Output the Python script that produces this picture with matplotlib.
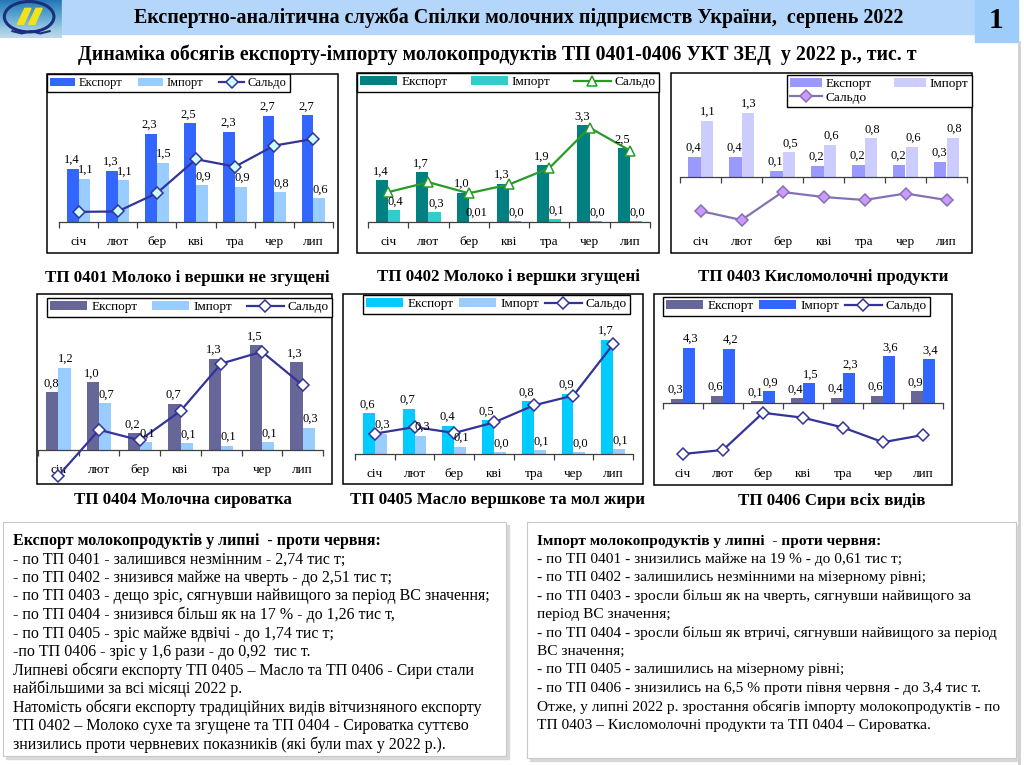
import numpy as np
import matplotlib
matplotlib.use('Agg')
import matplotlib.pyplot as plt
from matplotlib.patches import Rectangle, Ellipse, Polygon
from matplotlib.lines import Line2D

plt.rcParams['font.family'] = ['Liberation Serif', 'DejaVu Serif']

W, H = 1024, 765

# --- дані (тис. т) ---
months = ['січ', 'лют', 'бер', 'кві', 'тра', 'чер', 'лип']
names = ['Експорт', 'Імпорт', 'Сальдо']

exp_0401 = [1.37, 1.32, 2.26, 2.53, 2.32, 2.72, 2.74]
imp_0401 = [1.11, 1.07, 1.52, 0.94, 0.90, 0.76, 0.61]
sal_0401 = [0.26, 0.27, 0.74, 1.61, 1.42, 1.96, 2.13]

exp_0402 = [1.42, 1.70, 0.99, 1.31, 1.93, 3.30, 2.51]
imp_0402 = [0.40, 0.34, 0.01, 0.03, 0.09, 0.03, 0.03]
sal_0402 = [1.02, 1.36, 0.98, 1.28, 1.84, 3.22, 2.44]
imp_labels_0402 = ['0,4', '0,3', '0,01', '0,0', '0,1', '0,0', '0,0']

exp_0403 = [0.40, 0.40, 0.13, 0.23, 0.24, 0.24, 0.30]
imp_0403 = [1.12, 1.28, 0.49, 0.64, 0.77, 0.60, 0.78]
sal_0403 = [-0.68, -0.86, -0.30, -0.40, -0.46, -0.33, -0.46]

exp_0404 = [0.83, 0.97, 0.24, 0.66, 1.31, 1.50, 1.26]
imp_0404 = [1.18, 0.67, 0.11, 0.10, 0.06, 0.11, 0.32]
sal_0404 = [-0.37, 0.29, 0.14, 0.56, 1.24, 1.41, 0.93]

exp_0405 = [0.62, 0.69, 0.43, 0.51, 0.80, 0.92, 1.74]
imp_0405 = [0.31, 0.28, 0.11, 0.03, 0.06, 0.03, 0.07]
sal_0405 = [0.31, 0.41, 0.32, 0.48, 0.74, 0.89, 1.67]

exp_0406 = [0.33, 0.58, 0.14, 0.38, 0.39, 0.57, 0.92]
imp_0406 = [4.28, 4.22, 0.90, 1.52, 2.29, 3.61, 3.40]
sal_0406 = [-3.95, -3.64, -0.76, -1.14, -1.90, -3.04, -2.48]

header = 'Експертно-аналітична служба Спілки молочних підприємств України,  серпень 2022'
subtitle = 'Динаміка обсягів експорту-імпорту молокопродуктів ТП 0401-0406 УКТ ЗЕД  у 2022 р., тис. т'

left_lines = [
    'Експорт молокопродуктів у липні  - проти червня:',
    '- по ТП 0401 - залишився незмінним - 2,74 тис т;',
    '- по ТП 0402 - знизився майже на чверть - до 2,51 тис т;',
    '- по ТП 0403 - дещо зріс, сягнувши найвищого за період ВС значення;',
    '- по ТП 0404 - знизився більш як на 17 % - до 1,26 тис т,',
    '- по ТП 0405 - зріс майже вдвічі - до 1,74 тис т;',
    '-по ТП 0406 - зріс у 1,6 рази - до 0,92  тис т.',
    'Липневі обсяги експорту ТП 0405 – Масло та ТП 0406 - Сири стали',
    'найбільшими за всі місяці 2022 р.',
    'Натомість обсяги експорту традиційних видів вітчизняного експорту',
    'ТП 0402 – Молоко сухе та згущене та ТП 0404 - Сироватка суттєво',
    'знизились проти червневих показників (які були max у 2022 р.).',
]
right_lines = [
    'Імпорт молокопродуктів у липні  - проти червня:',
    '- по ТП 0401 - знизились майже на 19 % - до 0,61 тис т;',
    '- по ТП 0402 - залишились незмінними на мізерному рівні;',
    '- по ТП 0403 - зросли більш як на чверть, сягнувши найвищого за',
    'період ВС значення;',
    '- по ТП 0404 - зросли більш як втричі, сягнувши найвищого за період',
    'ВС значення;',
    '- по ТП 0405 - залишились на мізерному рівні;',
    '- по ТП 0406 - знизились на 6,5 % проти півня червня - до 3,4 тис т.',
    'Отже, у липні 2022 р. зростання обсягів імпорту молокопродуктів - по',
    'ТП 0403 – Кисломолочні продукти та ТП 0404 – Сироватка.',
]

fig = plt.figure(figsize=(W / 100, H / 100), dpi=100)
fig.patch.set_facecolor('white')


def fig_rect(x0, y0, x1, y1):
    # пікселі (зверху вниз) -> частки фігури
    return [x0 / W, 1 - y1 / H, (x1 - x0) / W, (y1 - y0) / H]


def ftext(x, y, s, **kw):
    fig.text(x / W, 1 - y / H, s, **kw)


def fmt(v):
    return f'{v:.1f}'.replace('.', ',')


# --- шапка ---
fig.patches.append(Rectangle((62 / W, 1 - 34 / H), (975 - 62) / W, 34 / H,
                             transform=fig.transFigure, color='#b4d6fa', zorder=0))
fig.patches.append(Rectangle((975 / W, 1 - 42 / H), 43 / W, 42 / H,
                             transform=fig.transFigure, color='#9fcdfb', zorder=0))
fig.add_artist(Line2D([1019 / W, 1019 / W], [0, 1 - 42 / H], transform=fig.transFigure,
                      color='#d0d0d0', lw=2))
ftext(519, 18, header, ha='center', va='center', fontsize=14.4, fontweight='bold')
ftext(996, 21, '1', ha='center', va='center', fontsize=21, fontweight='bold')
ftext(497, 55, subtitle, ha='center', va='center', fontsize=14.3, fontweight='bold')

# логотип
lg = fig.add_axes(fig_rect(0, 0, 62, 38))
lg.imshow(np.linspace(0, 1, 50).reshape(-1, 1), cmap='Blues_r', aspect='auto',
          extent=(0, 1, 0, 1), vmin=-0.6, vmax=1.6)
lg.add_patch(Ellipse((0.47, 0.56), 0.8, 0.8, fill=False, ec='#1b2f7a', lw=2.2))
lg.add_patch(Polygon([(0.28, 0.36), (0.38, 0.36), (0.50, 0.78), (0.40, 0.78)], color='#f2e21c'))
lg.add_patch(Polygon([(0.46, 0.36), (0.56, 0.36), (0.68, 0.78), (0.58, 0.78)], color='#f2e21c'))
lg.plot([0.2, 0.35, 0.5, 0.65, 0.8], [0.18, 0.12, 0.18, 0.12, 0.18], color='#1b2f7a', lw=1.5)
lg.set_xlim(0, 1)
lg.set_ylim(0, 1)
lg.axis('off')

# --- макет панелей (пікселі) ---
layout = {
    '0401': dict(frame=(47, 74, 338, 253), axis=(59, 333), base=222, ppu=39, month_y=242,
                 legend=(47, 74, 290, 95), ncol=3, hl=2.0, lfs=9, title_xy=(187, 278)),
    '0402': dict(frame=(357, 73, 659, 253), axis=(368, 650), base=222, ppu=29.3, month_y=242,
                 legend=(357, 73, 659, 93), ncol=3, hl=2.8, lfs=9.5, title_xy=(508, 277)),
    '0403': dict(frame=(671, 73, 972, 253), axis=(680, 967), base=177, ppu=50, month_y=242,
                 legend=(787, 75, 972, 110), ncol=2, hl=2.4, lfs=9.5, title_xy=(823, 277)),
    '0404': dict(frame=(37, 294, 332, 484), axis=(38, 323), base=450, ppu=69.7, month_y=470,
                 legend=(47, 298, 332, 322), ncol=3, hl=2.8, lfs=9.5, title_xy=(183, 500)),
    '0405': dict(frame=(343, 294, 643, 484), axis=(355, 633), base=454, ppu=65.7, month_y=474,
                 legend=(363, 295, 630, 317), ncol=3, hl=2.8, lfs=9.5, title_xy=(497, 500)),
    '0406': dict(frame=(654, 294, 952, 485), axis=(663, 943), base=403, ppu=12.9, month_y=474,
                 legend=(663, 297, 930, 325), ncol=3, hl=2.8, lfs=9.5, title_xy=(832, 501)),
}

styles = {
    '0401': dict(ce='#3366ff', ci='#99ccff', cs='#333399', mfc='#ccffff', marker='D'),
    '0402': dict(ce='#008080', ci='#33cccc', cs='#279a27', mfc='white', marker='^'),
    '0403': dict(ce='#9999ff', ci='#ccccff', cs='#8572b4', mfc='#cc99ff', marker='D'),
    '0404': dict(ce='#666699', ci='#99ccff', cs='#333399', mfc='white', marker='D'),
    '0405': dict(ce='#00ccff', ci='#99ccff', cs='#333399', mfc='white', marker='D'),
    '0406': dict(ce='#666699', ci='#3366ff', cs='#333399', mfc='white', marker='D'),
}

titles = {
    '0401': 'ТП 0401 Молоко і вершки не згущені',
    '0402': 'ТП 0402 Молоко і вершки згущені',
    '0403': 'ТП 0403 Кисломолочні продукти',
    '0404': 'ТП 0404 Молочна сироватка',
    '0405': 'ТП 0405 Масло вершкове та мол жири',
    '0406': 'ТП 0406 Сири всіх видів',
}


def draw_panel(code, exp, imp, sal, imp_labels=None):
    sp, st = layout[code], styles[code]
    x0, y0, x1, y1 = sp['frame']
    a0, a1 = sp['axis']
    ax = fig.add_axes(fig_rect(x0, y0, x1, y1))
    c = (a1 - a0) / 7
    ax.set_xlim(-0.5 - (a0 - x0) / c, 6.5 + (x1 - a1) / c)
    ax.set_ylim(-(y1 - sp['base']) / sp['ppu'], (sp['base'] - y0) / sp['ppu'])

    x = np.arange(len(months))
    w = 0.3
    b1 = ax.bar(x - w / 2, exp, w, color=st['ce'], zorder=2)
    b2 = ax.bar(x + w / 2, imp, w, color=st['ci'], zorder=2)
    ln, = ax.plot(x, sal, color=st['cs'], lw=1.6, marker=st['marker'], ms=6.5,
                  mfc=st['mfc'], mec=st['cs'], mew=1.1, zorder=4)

    if imp_labels is None:
        imp_labels = [fmt(v) for v in imp]
    for i in range(len(months)):
        ax.annotate(fmt(exp[i]), (x[i] - w / 2, exp[i]), xytext=(-1, 2), textcoords='offset points',
                    ha='center', va='bottom', fontsize=9, zorder=5)
        ax.annotate(imp_labels[i], (x[i] + w / 2, imp[i]), xytext=(1, 2), textcoords='offset points',
                    ha='center', va='bottom', fontsize=9, zorder=5)
        ax.text(x[i], (y1 - sp['month_y']) / (y1 - y0), months[i], transform=ax.get_xaxis_transform(),
                ha='center', va='center', fontsize=9.5)

    for s in ['top', 'left', 'right']:
        ax.spines[s].set_visible(False)
    ax.spines['bottom'].set_position(('data', 0))
    ax.spines['bottom'].set_bounds(-0.5, 6.5)
    ax.spines['bottom'].set_color('#404040')
    ax.spines['bottom'].set_linewidth(0.9)
    ax.set_xticks(np.arange(-0.5, 7, 1))
    ax.set_xticklabels([])
    ax.tick_params(axis='x', length=4, width=0.9, direction='out', color='#404040')
    ax.set_yticks([])
    ax.patch.set_alpha(0)
    ax.add_patch(Rectangle((0, 0), 1, 1, transform=ax.transAxes, fill=False, ec='black',
                           lw=1.1, clip_on=False, zorder=6))

    handles = [b1, b2, ln]
    labels = list(names)
    if sp['ncol'] == 2:
        handles = [b1, ln, b2]
        labels = [names[0], names[2], names[1]]
    leg = ax.legend(handles, labels, loc='upper left', bbox_to_anchor=fig_rect(*sp['legend']),
                    bbox_transform=fig.transFigure, mode='expand', ncol=sp['ncol'],
                    fontsize=sp['lfs'], fancybox=False, framealpha=1, edgecolor='black',
                    borderaxespad=0, borderpad=0.25, handlelength=sp['hl'], handleheight=0.6,
                    handletextpad=0.3, labelspacing=0.1, columnspacing=0.4)
    leg.get_frame().set_linewidth(1.0)
    leg.set_zorder(7)

    tx, ty = sp['title_xy']
    ftext(tx, ty, titles[code], ha='center', va='center', fontsize=12.2, fontweight='bold')


draw_panel('0401', exp_0401, imp_0401, sal_0401)
draw_panel('0402', exp_0402, imp_0402, sal_0402, imp_labels_0402)
draw_panel('0403', exp_0403, imp_0403, sal_0403)
draw_panel('0404', exp_0404, imp_0404, sal_0404)
draw_panel('0405', exp_0405, imp_0405, sal_0405)
draw_panel('0406', exp_0406, imp_0406, sal_0406)

# --- текстові блоки ---
for bx0, by0, bx1, by1 in [(3, 522, 506, 756), (527, 522, 1016, 758)]:
    fig.patches.append(Rectangle((bx0 / W + 3 / W, 1 - (by1 + 3) / H), (bx1 - bx0) / W, (by1 - by0) / H,
                                 transform=fig.transFigure, color='#d9d9d9', zorder=0))
    fig.patches.append(Rectangle((bx0 / W, 1 - by1 / H), (bx1 - bx0) / W, (by1 - by0) / H,
                                 transform=fig.transFigure, fc='white', ec='#c8c8c8', lw=0.8, zorder=0))

for k, s in enumerate(left_lines):
    ftext(13, 541 + k * 18.5, s, ha='left', va='center', fontsize=11.5,
          fontweight='bold' if k == 0 else 'normal')
for k, s in enumerate(right_lines):
    ftext(537, 541 + k * 18.4, s, ha='left', va='center', fontsize=11.1,
          fontweight='bold' if k == 0 else 'normal')

fig.savefig('out.png', dpi=100)
